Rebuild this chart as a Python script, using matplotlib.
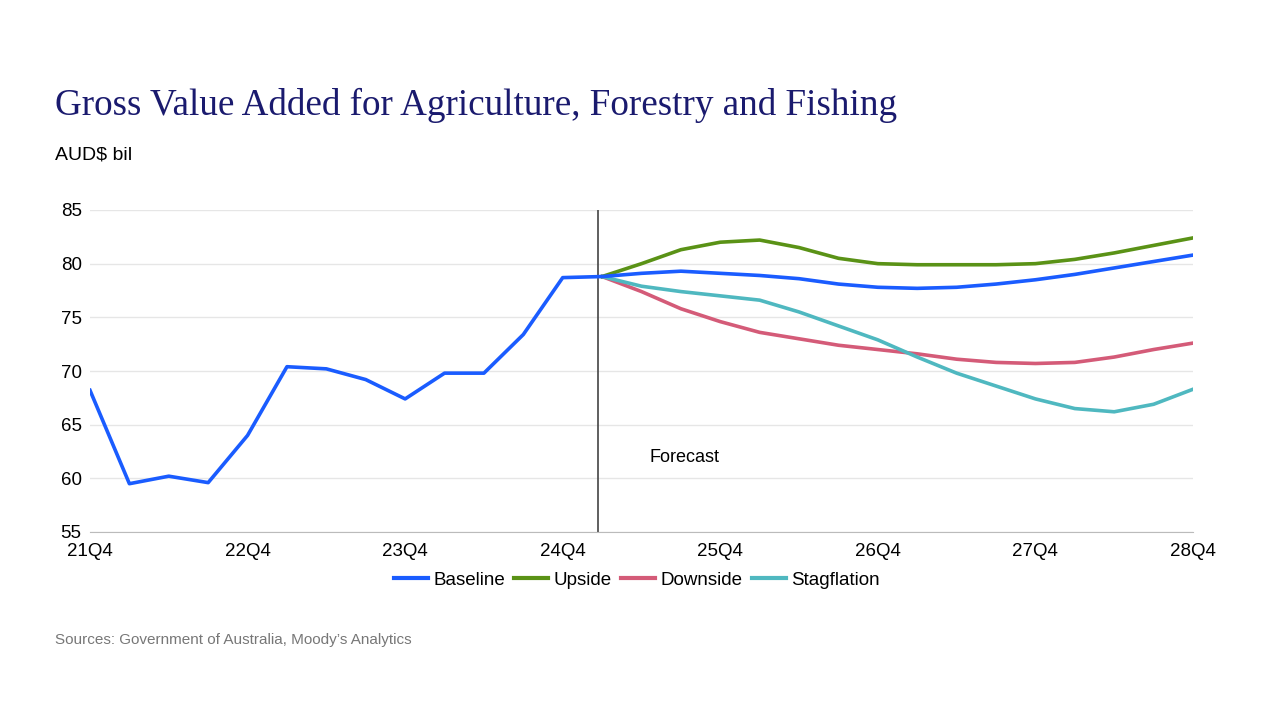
import matplotlib
matplotlib.use("Agg")
import matplotlib.pyplot as plt
plt.rcParams['font.family'] = ['Liberation Sans', 'DejaVu Sans']

quarters = ["21Q4","22Q1","22Q2","22Q3","22Q4","23Q1","23Q2","23Q3","23Q4","24Q1","24Q2","24Q3","24Q4",
            "25Q1","25Q2","25Q3","25Q4","26Q1","26Q2","26Q3","26Q4","27Q1","27Q2","27Q3","27Q4","28Q1","28Q2","28Q3","28Q4"]
history = [68.2,59.5,60.2,59.6,64.0,70.4,70.2,69.2,67.4,69.8,69.8,73.4,78.7]
baseline_fc = [78.8,79.1,79.3,79.1,78.9,78.6,78.1,77.8,77.7,77.8,78.1,78.5,79.0,79.6,80.2,80.8]
upside = [78.8,80.0,81.3,82.0,82.2,81.5,80.5,80.0,79.9,79.9,79.9,80.0,80.4,81.0,81.7,82.4]
downside = [78.8,77.4,75.8,74.6,73.6,73.0,72.4,72.0,71.6,71.1,70.8,70.7,70.8,71.3,72.0,72.6]
stagflation = [78.8,77.9,77.4,77.0,76.6,75.5,74.2,72.9,71.3,69.8,68.6,67.4,66.5,66.2,66.9,68.3]
tick_labels = ["21Q4","22Q4","23Q4","24Q4","25Q4","26Q4","27Q4","28Q4"]

fig = plt.figure(figsize=(12.8, 7.2), dpi=100)
ax = fig.add_axes([90/1280, 1-532/720, (1193-90)/1280, (532-210)/720])

n_hist = len(history)
xh = list(range(n_hist))
xf = list(range(n_hist, n_hist + len(baseline_fc)))
lw = 2.6
ax.plot(xh + xf, history + baseline_fc, color="#1a5cff", lw=lw, zorder=5)
ax.plot(xf, upside, color="#5a9216", lw=lw, zorder=4)
ax.plot(xf, downside, color="#d45b78", lw=lw, zorder=3)
ax.plot(xf, stagflation, color="#4fb8c0", lw=lw, zorder=3)
ax.axvline(n_hist - 0.1, color="#444444", lw=1.2)
ax.text(n_hist + 1.2, 61.9, "Forecast", fontsize=13, va="center")

ax.set_xlim(0, len(quarters) - 1)
ax.set_ylim(55, 85)
ax.set_yticks(range(55, 86, 5))
ax.set_xticks([quarters.index(t) for t in tick_labels])
ax.set_xticklabels(tick_labels)
ax.grid(axis="y", color="#e6e6e6", lw=1)
ax.set_axisbelow(True)
for s in ["top", "right", "left"]:
    ax.spines[s].set_visible(False)
ax.spines["bottom"].set_color("#bbbbbb")
ax.tick_params(length=0, labelsize=13.5)
ax.tick_params(axis="x", pad=8)
ax.tick_params(axis="y", pad=6)

handles = [plt.Line2D([], [], color=c, lw=3) for c in ["#1a5cff","#5a9216","#d45b78","#4fb8c0"]]
fig.legend(handles, ["Baseline","Upside","Downside","Stagflation"], loc="center",
           bbox_to_anchor=(637/1280, 1-580/720), ncol=4, frameon=False, fontsize=13.5,
           handlelength=1.8, handletextpad=0.3, columnspacing=0.5)

fig.text(55/1280, 1-105/720, "Gross Value Added for Agriculture, Forestry and Fishing",
         fontsize=26.7, family="Liberation Serif", color="#1a1a6e", va="center")
fig.text(55/1280, 1-155/720, "AUD$ bil", fontsize=14, va="center")
fig.text(55/1280, 1-640/720, "Sources: Government of Australia, Moody\u2019s Analytics",
         fontsize=11, color="#777777", va="center")
fig.savefig("out.png", dpi=100)
